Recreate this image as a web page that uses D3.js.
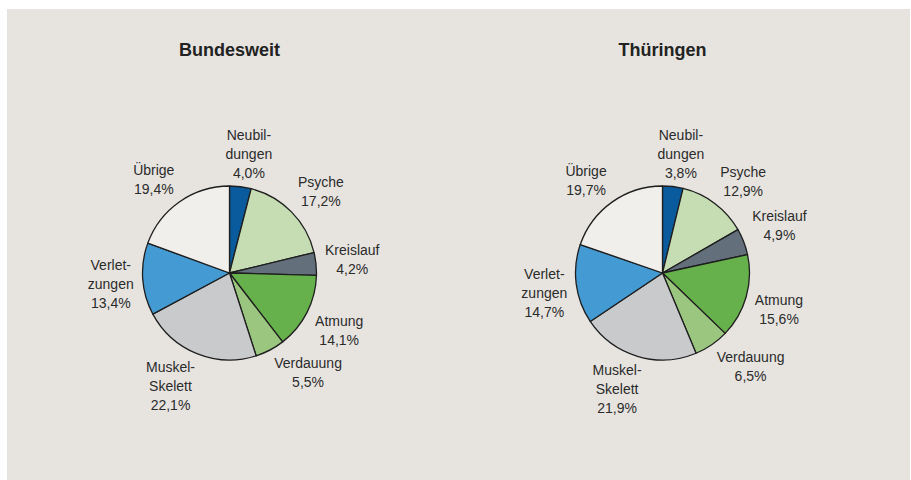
<!DOCTYPE html>
<html>
<head>
<meta charset="utf-8">
<script src="https://cdn.jsdelivr.net/npm/d3@7"></script>
<style>
  body { margin: 0; background: #fff; }
  svg { display: block; font-family: "Liberation Sans", Arial, sans-serif; }
</style>
</head>
<body>
<div id="chart"></div>
<script>
// categories in clockwise order starting at 12 o'clock
const categories = ["Neubildungen", "Psyche", "Kreislauf", "Atmung", "Verdauung", "Muskel-Skelett", "Verletzungen", "Übrige"];
// label lines as printed in the chart (hyphenated)
const labelLines = [["Neubil-", "dungen"], ["Psyche"], ["Kreislauf"], ["Atmung"], ["Verdauung"], ["Muskel-", "Skelett"], ["Verlet-", "zungen"], ["Übrige"]];
const bundesweit = [4.0, 17.2, 4.2, 14.1, 5.5, 22.1, 13.4, 19.4];
const thueringen = [3.8, 12.9, 4.9, 15.6, 6.5, 21.9, 14.7, 19.7];
const titles = ["Bundesweit", "Thüringen"];
const colors = ["#0a5b9e", "#c6dcb3", "#636f7b", "#67b14d", "#9bc67f", "#c9cacc", "#449bd4", "#f1efeb"];

const width = 911, height = 480;
const radius = 87;
const labelGap = 9;
const lineHeight = 19;
const capHeight = 10;

const svg = d3.select("#chart")
  .append("svg")
  .attr("width", width)
  .attr("height", height);

// grey panel
svg.append("rect")
  .attr("x", 7)
  .attr("y", 9)
  .attr("width", 903)
  .attr("height", height - 9)
  .attr("fill", "#e7e4e0");

const color = d3.scaleOrdinal().domain(categories).range(colors);
const fmt = v => d3.format(".1f")(v).replace(".", ",") + "%";

const pie = d3.pie().sort(null).value(d => d.value);
const arc = d3.arc().innerRadius(0).outerRadius(radius);
const edgeArc = d3.arc().innerRadius(radius).outerRadius(radius);
const clamp = v => Math.max(-1, Math.min(1, v));

const drawPie = (values, title, cx) => {
  const cy = 273;
  const data = categories.map((c, i) => ({ name: c, value: values[i], lines: labelLines[i] }));

  svg.append("text")
    .attr("x", cx)
    .attr("y", 56)
    .attr("text-anchor", "middle")
    .attr("font-size", 18)
    .attr("font-weight", "bold")
    .attr("fill", "#222")
    .text(title);

  const g = svg.append("g").attr("transform", `translate(${cx},${cy})`);

  const arcs = pie(data);

  g.selectAll("path.slice")
    .data(arcs)
    .join("path")
    .attr("class", "slice")
    .attr("d", arc)
    .attr("fill", d => color(d.data.name))
    .attr("stroke", "#1e1e1e")
    .attr("stroke-width", 1.3)
    .attr("stroke-linejoin", "round");

  // labels: name lines + value, placed just outside the rim (Excel-like best fit)
  const labels = g.selectAll("text.label")
    .data(arcs)
    .join("text")
    .attr("class", "label")
    .attr("text-anchor", "middle")
    .attr("font-size", 14)
    .attr("fill", "#2b2b2b");

  labels.each(function (d) {
    const t = d3.select(this);
    const lines = d.data.lines.concat([fmt(d.data.value)]);
    lines.forEach((line, i) => {
      t.append("tspan")
        .attr("x", 0)
        .attr("y", i * lineHeight)
        .text(line);
    });
    const w = this.getBBox().width;
    const h = (lines.length - 1) * lineHeight + capHeight;
    const a = (d.startAngle + d.endAngle) / 2;
    const sx = Math.sin(a), sy = -Math.cos(a);
    const [px, py] = edgeArc.centroid(d);
    const x = px + labelGap * sx + (w / 2) * clamp(2.5 * sx);
    const y = py + labelGap * sy + (h / 2) * clamp(2.5 * sy);
    t.attr("transform", `translate(${x},${y - h / 2 + capHeight})`);
  });
};

drawPie(bundesweit, titles[0], 229.5);
drawPie(thueringen, titles[1], 662.5);
</script>
</body>
</html>
